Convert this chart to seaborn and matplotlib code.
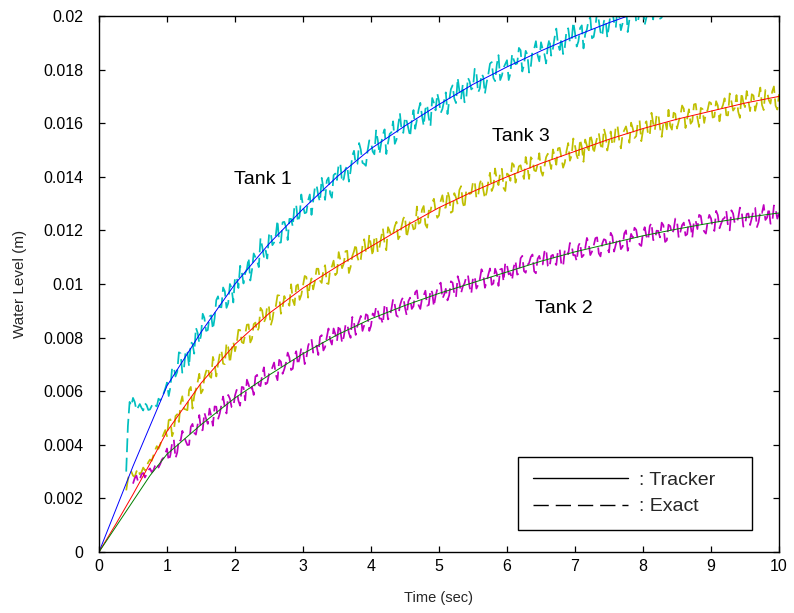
import numpy as np
import pandas as pd
import matplotlib
matplotlib.use("Agg")
import matplotlib.pyplot as plt
from matplotlib.lines import Line2D
import seaborn as sns

# ---------------- data (water levels in units of 1e-5 m) ----------------
# smooth "Tracker" curves
track_t = [0, 0.25, 0.5, 0.75, 1.0, 1.5, 2.0, 2.5, 3.0, 3.5, 4.0, 4.5, 5.0,
           5.5, 6.0, 6.5, 7.0, 7.5, 8.0, 8.5, 9.0, 9.5, 10.0]
tank1_track = [0, 160, 320, 470, 620, 820, 1000, 1150, 1280, 1400, 1505, 1590,
               1670, 1745, 1810, 1870, 1925, 1975, 2020, 2060, 2095, 2130, 2160]
tank2_track = [0, 95, 190, 285, 365, 475, 575, 660, 740, 810, 870, 920, 965,
               1005, 1045, 1085, 1120, 1150, 1180, 1205, 1228, 1248, 1265]
tank3_track = [0, 105, 215, 330, 450, 630, 775, 890, 985, 1065, 1140, 1215,
               1285, 1345, 1400, 1450, 1495, 1540, 1580, 1615, 1645, 1675, 1700]

# noisy "Exact" measurements: samples every 0.05 s ("grid") and the
# samples half-way between them ("mid"), read from the picture
tank1_start, tank1_end = 0.40, 8.40
tank1_exact_grid = [
    300, 560, 575, 530, 552, 528, 548, 532, 556, 543, 566, 592,
    632, 615, 690, 672, 741, 687, 745, 782, 740, 818,
    808, 873, 828, 883, 872, 954, 913, 973, 928, 985,
    1025, 985, 1044, 1040, 1098, 1053, 1100, 1063, 1140, 1125,
    1182, 1145, 1182, 1154, 1230, 1212, 1243, 1214, 1294, 1253,
    1292, 1267, 1334, 1308, 1369, 1307, 1357, 1386, 1336, 1406,
    1388, 1446, 1393, 1441, 1422, 1497, 1448, 1501, 1448, 1498,
    1530, 1484, 1536, 1526, 1577, 1526, 1566, 1523, 1593, 1572,
    1622, 1580, 1612, 1579, 1650, 1627, 1653, 1619, 1694, 1648,
    1682, 1653, 1715, 1685, 1741, 1675, 1720, 1745, 1690, 1756,
    1733, 1787, 1730, 1774, 1751, 1822, 1769, 1818, 1761, 1807,
    1835, 1786, 1836, 1823, 1872, 1818, 1856, 1810, 1878, 1854,
    1902, 1858, 1887, 1852, 1920, 1895, 1918, 1882, 1954, 1906,
    1937, 1905, 1965, 1932, 1986, 1917, 1960, 1982, 1925, 1988,
    1963, 2015, 1956, 1998, 1973, 2042, 1987, 2034, 1975, 2019,
    2045, 1994, 2042, 1987, 2074, 1990, 2054, 1996, 2072,
]
tank1_exact_mid = [
    470, 545, 560, 540, 538, 555, 530, 545, 548, 572, 580, 610,
    582, 686, 655, 745, 669, 753, 692, 778, 837, 780,
    889, 825, 879, 831, 940, 914, 987, 911, 1000, 931,
    1026, 1068, 1002, 1056, 1013, 1114, 1086, 1171, 1101, 1095,
    1193, 1155, 1238, 1155, 1232, 1164, 1243, 1295, 1231, 1334,
    1264, 1312, 1258, 1361, 1329, 1396, 1314, 1397, 1322, 1412,
    1450, 1380, 1429, 1382, 1478, 1446, 1526, 1452, 1441, 1536,
    1494, 1573, 1485, 1558, 1485, 1560, 1607, 1539, 1637, 1564,
    1608, 1550, 1649, 1613, 1676, 1590, 1669, 1590, 1676, 1711,
    1638, 1684, 1634, 1727, 1692, 1769, 1692, 1678, 1770, 1726,
    1803, 1714, 1784, 1710, 1782, 1828, 1757, 1854, 1778, 1821,
    1761, 1858, 1820, 1881, 1793, 1870, 1789, 1873, 1906, 1831,
    1876, 1823, 1915, 1877, 1953, 1873, 1858, 1947, 1902, 1977,
    1886, 1955, 1879, 1950, 1994, 1922, 2017, 1940, 1981, 1920,
    2016, 1977, 2036, 1947, 2022, 1940, 2022, 2054, 1977, 2021,
    1967, 2057, 2018, 2092, 2011, 1994, 2082, 2035,
]

tank2_start, tank2_end = 0.50, 10.00
tank2_exact_grid = [
    255, 285, 270, 295, 290, 312, 305, 332, 328, 352,
    386, 362, 420, 371, 415, 437, 399, 467, 445, 475,
    453, 520, 478, 507, 543, 495, 548, 540, 586, 541,
    584, 565, 616, 566, 625, 616, 655, 623, 662, 626,
    664, 689, 662, 717, 665, 706, 725, 684, 749, 724,
    751, 725, 789, 744, 770, 803, 752, 802, 791, 834,
    786, 825, 803, 852, 799, 856, 844, 881, 846, 883,
    844, 879, 901, 871, 923, 868, 906, 922, 878, 940,
    912, 936, 907, 969, 921, 945, 975, 922, 969, 956,
    996, 945, 982, 958, 1005, 950, 1005, 991, 1026, 989,
    1024, 983, 1017, 1038, 1007, 1058, 1002, 1039, 1054, 1009,
    1070, 1041, 1064, 1035, 1096, 1048, 1071, 1101, 1047, 1094,
    1080, 1120, 1068, 1105, 1080, 1127, 1071, 1126, 1111, 1146,
    1108, 1142, 1100, 1133, 1153, 1121, 1171, 1114, 1150, 1164,
    1118, 1178, 1148, 1170, 1140, 1200, 1151, 1173, 1202, 1147,
    1193, 1178, 1216, 1164, 1199, 1174, 1219, 1163, 1216, 1201,
    1234, 1195, 1229, 1186, 1218, 1238, 1205, 1254, 1196, 1232,
    1245, 1198, 1257, 1226, 1247, 1216, 1275, 1225, 1246, 1274,
    1218, 1263, 1246, 1284, 1231, 1265, 1239, 1284, 1227, 1279,
    1263,
]
tank2_exact_mid = [
    275, 262, 290, 278, 305, 298, 322, 315, 345, 368,
    340, 407, 350, 421, 452, 414, 400, 478, 438, 511,
    455, 497, 535, 471, 542, 516, 580, 517, 572, 540,
    605, 546, 614, 643, 602, 586, 661, 619, 689, 631,
    671, 707, 641, 710, 682, 744, 679, 732, 698, 762,
    701, 768, 795, 753, 735, 809, 765, 834, 774, 813,
    848, 780, 847, 817, 877, 810, 861, 825, 887, 825,
    890, 915, 871, 851, 923, 877, 944, 882, 919, 952,
    883, 949, 917, 976, 907, 957, 919, 980, 916, 981,
    1005, 960, 939, 1010, 963, 1029, 966, 1002, 1034, 964,
    1029, 997, 1055, 986, 1035, 997, 1057, 993, 1057, 1081,
    1036, 1015, 1086, 1039, 1105, 1042, 1078, 1110, 1040, 1105,
    1073, 1130, 1061, 1109, 1071, 1130, 1066, 1129, 1153, 1107,
    1085, 1155, 1107, 1172, 1108, 1143, 1174, 1103, 1167, 1134,
    1191, 1121, 1169, 1130, 1189, 1124, 1187, 1210, 1164, 1142,
    1212, 1164, 1228, 1164, 1198, 1229, 1157, 1221, 1187, 1244,
    1173, 1220, 1181, 1239, 1173, 1236, 1258, 1211, 1188, 1258,
    1209, 1273, 1208, 1242, 1272, 1200, 1263, 1229, 1285, 1214,
    1261, 1220, 1278, 1212, 1273, 1295, 1248, 1225, 1293, 1244,
]

tank3_start, tank3_end = 0.40, 10.00
tank3_exact_grid = [
    230, 295, 285, 300, 290, 315, 320, 345, 360, 395, 400, 440,
    432, 495, 451, 514, 555, 534, 529, 616, 582, 633,
    592, 652, 689, 650, 703, 700, 753, 701, 765, 752,
    749, 829, 783, 814, 849, 796, 856, 836, 901, 872,
    913, 867, 917, 957, 912, 939, 919, 939, 993, 941,
    995, 1026, 995, 980, 1057, 1013, 1054, 1003, 1056, 1087,
    1041, 1088, 1077, 1124, 1064, 1122, 1101, 1092, 1167, 1118,
    1144, 1176, 1118, 1175, 1150, 1212, 1178, 1216, 1167, 1216,
    1253, 1206, 1230, 1208, 1225, 1277, 1222, 1274, 1304, 1272,
    1256, 1331, 1285, 1324, 1271, 1322, 1351, 1303, 1348, 1336,
    1381, 1320, 1375, 1353, 1341, 1415, 1363, 1388, 1417, 1358,
    1412, 1385, 1444, 1408, 1443, 1392, 1438, 1473, 1424, 1446,
    1422, 1437, 1486, 1429, 1478, 1506, 1471, 1453, 1526, 1479,
    1516, 1462, 1511, 1539, 1489, 1533, 1519, 1563, 1500, 1555,
    1531, 1518, 1590, 1537, 1560, 1588, 1527, 1580, 1552, 1610,
    1573, 1607, 1554, 1599, 1632, 1582, 1602, 1577, 1590, 1639,
    1580, 1628, 1654, 1618, 1598, 1670, 1621, 1657, 1601, 1649,
    1675, 1624, 1666, 1651, 1693, 1629, 1682, 1657, 1643, 1714,
    1660, 1682, 1708, 1646, 1697, 1668, 1724, 1686, 1718, 1665,
    1708,
]
tank3_exact_mid = [
    270, 300, 280, 310, 298, 305, 335, 340, 380, 385, 425, 455,
    492, 432, 507, 485, 581, 532, 605, 535, 608, 665,
    603, 674, 657, 728, 655, 737, 703, 780, 705, 784,
    778, 828, 779, 848, 782, 850, 822, 911, 856, 922,
    845, 909, 958, 889, 955, 933, 999, 921, 998, 959,
    1030, 949, 1021, 1010, 1057, 1004, 1070, 1000, 1065, 1033,
    1119, 1059, 1122, 1041, 1104, 1150, 1080, 1143, 1120, 1183,
    1104, 1178, 1138, 1207, 1126, 1197, 1186, 1232, 1179, 1244,
    1173, 1237, 1204, 1289, 1229, 1291, 1210, 1272, 1318, 1247,
    1310, 1285, 1347, 1266, 1339, 1297, 1365, 1282, 1352, 1339,
    1384, 1328, 1392, 1319, 1382, 1347, 1431, 1369, 1430, 1347,
    1407, 1451, 1378, 1439, 1413, 1474, 1392, 1464, 1421, 1488,
    1404, 1473, 1458, 1502, 1445, 1508, 1434, 1496, 1460, 1543,
    1480, 1540, 1456, 1516, 1559, 1486, 1546, 1520, 1580, 1498,
    1569, 1525, 1591, 1506, 1574, 1559, 1602, 1545, 1607, 1533,
    1594, 1557, 1639, 1575, 1634, 1549, 1608, 1650, 1576, 1635,
    1607, 1666, 1582, 1652, 1607, 1672, 1586, 1653, 1637, 1679,
    1621, 1682, 1607, 1667, 1630, 1711, 1647, 1705, 1620, 1678,
    1720, 1645, 1703, 1675, 1733, 1649, 1718, 1673, 1737, 1651,
]

x_ticks = [0, 1, 2, 3, 4, 5, 6, 7, 8, 9, 10]
y_ticks = [0, 0.002, 0.004, 0.006, 0.008, 0.01, 0.012, 0.014, 0.016, 0.018, 0.02]
y_ticklabels = ["0", "0.002", "0.004", "0.006", "0.008", "0.01", "0.012",
                "0.014", "0.016", "0.018", "0.02"]

tank_labels = ["Tank 1", "Tank 2", "Tank 3"]
tank_label_pos = [(1.985, 0.0139), (6.41, 0.0091), (5.78, 0.0155)]

UNIT = 1e-5

# ---------------- styling ----------------
sns.set_style("ticks")
plt.rcParams["font.family"] = ["Liberation Sans", "DejaVu Sans"]
plt.rcParams["lines.scale_dashes"] = False

fig = plt.figure(figsize=(7.94, 6.13), dpi=100)
ax = fig.add_axes([99 / 794, 1 - 552 / 613, 680 / 794, 536 / 613])


def merged(grid_vals, mid_vals, start, end):
    vals = np.empty(len(grid_vals) + len(mid_vals))
    vals[0::2] = grid_vals
    vals[1::2] = mid_vals
    t = np.linspace(start, end, len(vals))
    return t, vals * UNIT


exact_series = [
    (merged(tank1_exact_grid, tank1_exact_mid, tank1_start, tank1_end), "#00BFBF"),
    (merged(tank3_exact_grid, tank3_exact_mid, tank3_start, tank3_end), "#BFBF00"),
    (merged(tank2_exact_grid, tank2_exact_mid, tank2_start, tank2_end), "#BF00BF"),
]
for (t, v), c in exact_series:
    df = pd.DataFrame({"t": t, "v": v})
    sns.lineplot(data=df, x="t", y="v", ax=ax, color=c, estimator=None,
                 sort=False, linewidth=1.25)
    ax.lines[-1].set_linestyle((0, (10, 4)))

track_series = [
    (tank1_track, "#0000FF"),
    (tank3_track, "#FF0000"),
    (tank2_track, "#008000"),
]
for v, c in track_series:
    df = pd.DataFrame({"t": track_t, "v": np.array(v) * UNIT})
    sns.lineplot(data=df, x="t", y="v", ax=ax, color=c, estimator=None,
                 sort=False, linewidth=0.7)

ax.set_xlim(0, 10)
ax.set_ylim(0, 0.02)
ax.set_xticks(x_ticks)
ax.set_xticklabels([str(x) for x in x_ticks])
ax.set_yticks(y_ticks)
ax.set_yticklabels(y_ticklabels)

for s in ax.spines.values():
    s.set_visible(True)
    s.set_color("black")
    s.set_linewidth(1.0)

ax.tick_params(axis="both", direction="in", length=4.5, width=0.9,
               top=True, right=True, labelsize=11.5, colors="black")
ax.tick_params(axis="y", pad=11)
ax.tick_params(axis="x", pad=5)

ax.set_xlabel("Time (sec)", fontsize=10.5, labelpad=12)
ax.set_ylabel("Water Level (m)", fontsize=11, labelpad=12)

for lab, (x, y) in zip(tank_labels, tank_label_pos):
    ax.text(x, y, lab, fontsize=14, ha="left", va="center", color="black")

handles = [
    Line2D([], [], color="black", linewidth=1.0, linestyle="-"),
    Line2D([], [], color="black", linewidth=1.0, linestyle=(0, (11, 5))),
]
leg = ax.legend(handles, [": Tracker    ", ": Exact"], loc="lower right",
                bbox_to_anchor=(0.960, 0.041), borderaxespad=0,
                fontsize=14, handlelength=4.9, handletextpad=0.6,
                frameon=True, fancybox=False, framealpha=1,
                borderpad=0.75, labelspacing=0.45)
leg.get_frame().set_edgecolor("black")
leg.get_frame().set_linewidth(1.0)

fig.savefig("out.png", dpi=100, facecolor="white")
